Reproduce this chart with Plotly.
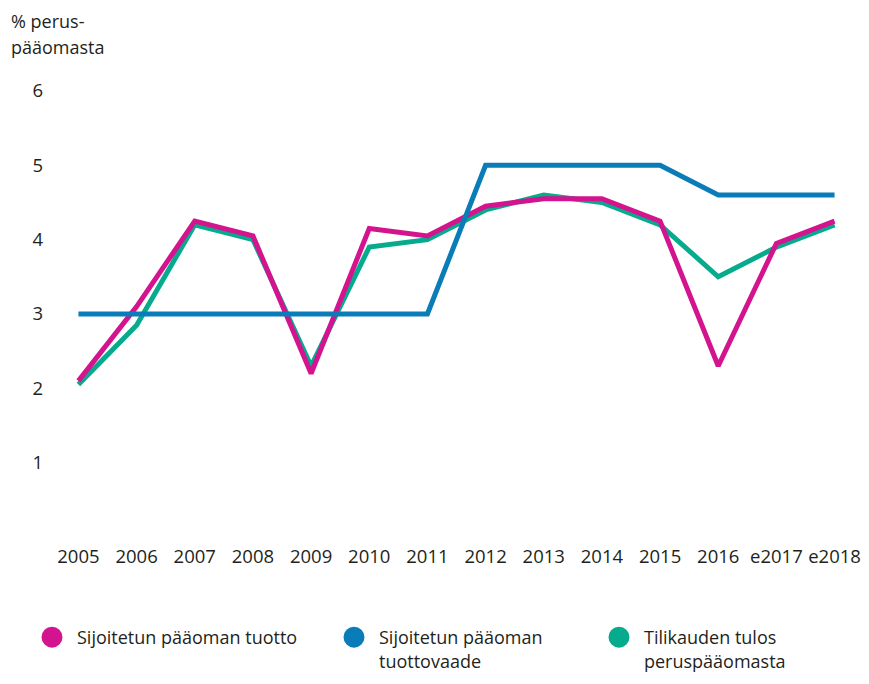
import plotly.graph_objects as go

years = ["2005", "2006", "2007", "2008", "2009", "2010", "2011",
         "2012", "2013", "2014", "2015", "2016", "e2017", "e2018"]
tuotto = [2.1, 3.1, 4.25, 4.05, 2.2, 4.15, 4.05, 4.45, 4.55, 4.55, 4.25, 2.3, 3.95, 4.25]
tuottovaade = [3.0, 3.0, 3.0, 3.0, 3.0, 3.0, 3.0, 5.0, 5.0, 5.0, 5.0, 4.6, 4.6, 4.6]
tilikausi = [2.05, 2.85, 4.2, 4.0, 2.3, 3.9, 4.0, 4.4, 4.6, 4.5, 4.2, 3.5, 3.9, 4.2]
y_ticks = [1, 2, 3, 4, 5, 6]

names = ["Sijoitetun pääoman tuotto", "Sijoitetun pääoman<br>tuottovaade",
         "Tilikauden tulos<br>peruspääomasta"]
title_lines = ["% perus-", "pääomasta"]
PINK, BLUE, GREEN = "#d3148e", "#0a7db8", "#06ab8d"
FONT = "Open Sans"
TXT = "#231f20"
FS = 18.5
W, H = 853, 668
L, R, T, B = 52.5, 8.5, 82.5, 138.5
PW, PH = W - L - R, H - T - B

xs = list(range(len(years)))
fig = go.Figure()
# draw order: green, pink, blue (blue on top)
for vals, col in [(tilikausi, GREEN), (tuotto, PINK), (tuottovaade, BLUE)]:
    fig.add_trace(go.Scatter(x=xs, y=vals, mode="lines", line=dict(color=col, width=5),
                             showlegend=False, hoverinfo="skip"))

# legend entries
for i, (nm, col) in enumerate(zip(names, [PINK, BLUE, GREEN])):
    fig.add_trace(go.Scatter(x=[None], y=[None], mode="markers", name=nm,
                             marker=dict(color=col, size=22, line=dict(color=col, width=5)),
                             legend="legend" if i == 0 else f"legend{i+1}"))

leg_common = dict(orientation="v", xref="container", yref="container", yanchor="top",
                  xanchor="left", font=dict(family=FONT, size=18, color=TXT),
                  bgcolor="rgba(0,0,0,0)", valign="top", itemsizing="trace",
                  tracegroupgap=0, itemwidth=40)
fig.update_layout(
    width=W, height=H,
    margin=dict(l=L, r=R, t=T, b=B, autoexpand=False),
    plot_bgcolor="white", paper_bgcolor="white",
    font=dict(family=FONT, size=FS, color=TXT),
    xaxis=dict(range=[-0.3, 13.3], tickvals=xs, ticktext=years, showgrid=False,
               zeroline=False, showline=False, ticks="", ticklabelstandoff=6,
               tickfont=dict(family=FONT, size=FS, color=TXT)),
    yaxis=dict(range=[0, 6], tickvals=y_ticks, showgrid=False, zeroline=False,
               showline=False, ticks="", ticklabelstandoff=17,
               tickfont=dict(family=FONT, size=FS, color=TXT)),
    legend=dict(x=19 / W, y=1 - 611 / H, **leg_common),
    legend2=dict(x=321 / W, y=1 - 611 / H, **leg_common),
    legend3=dict(x=586 / W, y=1 - 611 / H, **leg_common),
    annotations=[dict(text=t, xref="paper", yref="paper",
                      x=(0 - L) / PW, y=(H - B - yc) / PH, xanchor="left", yanchor="middle",
                      showarrow=False, align="left",
                      font=dict(family=FONT, size=18, color=TXT))
                 for t, yc in zip(title_lines, [12, 38])],
)
fig.write_html("out.html")
